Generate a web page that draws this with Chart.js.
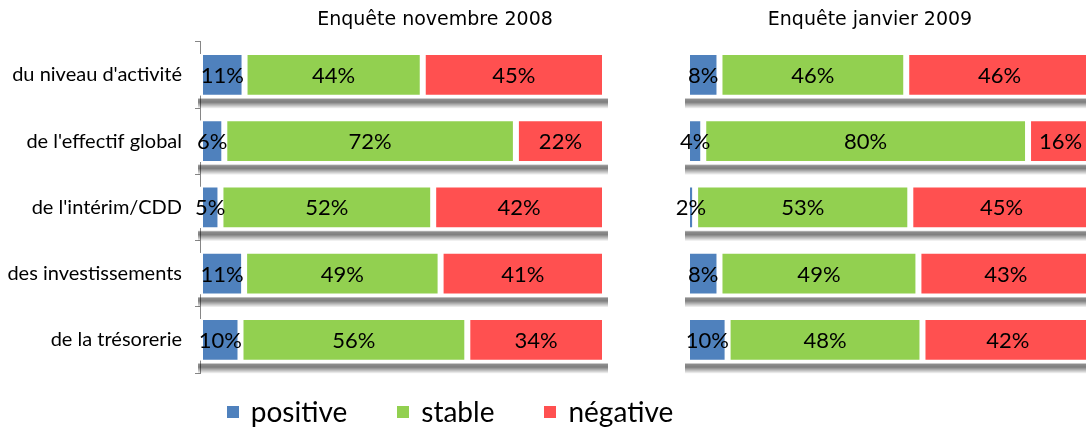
<!DOCTYPE html>
<html>
<head>
<meta charset="utf-8">
<script src="https://cdn.jsdelivr.net/npm/chart.js@4.4.1/dist/chart.umd.min.js"></script>
<style>
  body { margin: 0; background: #fff; }
  #wrap { position: relative; width: 1086px; height: 428px; overflow: hidden; }
  #novChart { position: absolute; left: 0; top: 0; }
  #janChart { position: absolute; left: 640px; top: 0; }
  #legend { position: absolute; left: 0; top: 395px; width: 900px; display: flex; justify-content: center; gap: 50px;
            font-family: Lato, sans-serif; font-size: 28px; line-height: 32px; color: #000; }
  #legend span.item { display: flex; align-items: center; }
  #legend span.box { display: inline-block; width: 12px; height: 12px; margin-right: 12px; margin-top: 2px; }
</style>
</head>
<body>
<div id="wrap">
  <canvas id="novChart" width="870" height="428"></canvas>
  <canvas id="janChart" width="460" height="428"></canvas>
  <div id="legend"></div>
</div>
<script>
const categories = ["du niveau d'activité", "de l'effectif global", "de l'intérim/CDD", "des investissements", "de la trésorerie"];
const seriesNames = ['positive', 'stable', 'négative'];

const nov2008Positive = [11, 6, 5, 11, 10];
const nov2008Stable = [44, 72, 52, 49, 56];
const nov2008Negative = [45, 22, 42, 41, 34];

const jan2009Positive = [8, 4, 2, 8, 10];
const jan2009Stable = [46, 80, 53, 49, 48];
const jan2009Negative = [46, 16, 45, 43, 42];

const colors = ['#4F81BD', '#92D050', '#FF5050'];

// shadow strip under each row + value labels
const barDecor = {
    id: 'barDecor',
    afterDatasetsDraw(chart) {
        const ctx = chart.ctx;
        const n = chart.data.datasets.length;
        const first = chart.getDatasetMeta(0).data;
        const last = chart.getDatasetMeta(n - 1).data;
        ctx.save();
        first.forEach((bar, j) => {
            const left = bar.base - 2;
            const right = last[j].x + 3;
            const bottom = bar.y + bar.height / 2;
            const g = ctx.createLinearGradient(0, bottom + 2, 0, bottom + 13);
            g.addColorStop(0, 'rgba(0,0,0,0)');
            g.addColorStop(0.15, 'rgba(0,0,0,0.45)');
            g.addColorStop(0.4, 'rgba(0,0,0,0.5)');
            g.addColorStop(1, 'rgba(0,0,0,0)');
            ctx.fillStyle = g;
            ctx.fillRect(left, bottom + 2, right - left, 11);
        });
        ctx.restore();

        ctx.save();
        ctx.font = '22px Lato';
        ctx.fillStyle = '#000';
        ctx.textAlign = 'center';
        ctx.textBaseline = 'middle';
        chart.data.datasets.forEach((ds, i) => {
            chart.getDatasetMeta(i).data.forEach((bar, j) => {
                const x = (bar.x + bar.base) / 2;
                ctx.fillText(ds.raw[j] + '%', x, bar.y + 1);
            });
        });
        ctx.restore();
    }
};

function makeChart(id, title, series, leftWidth, rightWidth, showAxis) {
    const totals = categories.map((c, j) => series.reduce((s, arr) => s + arr[j], 0));
    return new Chart(document.getElementById(id), {
        type: 'bar',
        data: {
            labels: categories,
            datasets: series.map((arr, i) => ({
                label: seriesNames[i],
                raw: arr,
                data: arr.map((v, j) => v / totals[j] * 100),
                backgroundColor: colors[i],
                borderColor: '#fff',
                borderWidth: { top: 1, bottom: 1, left: 3, right: 3 },
                borderSkipped: false,
                barPercentage: 0.63,
                categoryPercentage: 1
            }))
        },
        options: {
            indexAxis: 'y',
            responsive: false,
            animation: false,
            layout: { padding: { top: 0, bottom: 55, left: 0, right: 0 } },
            plugins: {
                legend: { display: false },
                tooltip: { enabled: false },
                title: {
                    display: true,
                    text: title,
                    color: '#000',
                    font: { family: 'DejaVu Sans', size: 19, weight: 'normal' },
                    padding: { top: 9, bottom: 10 }
                }
            },
            scales: {
                x: { stacked: true, min: 0, max: 100, display: false },
                y: {
                    stacked: true,
                    position: 'left',
                    afterFit: s => { s.width = leftWidth; },
                    border: { display: showAxis, color: '#868686' },
                    grid: { display: showAxis, drawOnChartArea: false, tickLength: 5, color: '#868686', offset: true },
                    ticks: { display: showAxis, color: '#000', font: { family: 'Lato', size: 20 }, padding: 13 }
                },
                yRight: {
                    position: 'right',
                    afterFit: s => { s.width = rightWidth; },
                    border: { display: false },
                    grid: { display: false },
                    ticks: { display: false }
                }
            }
        },
        plugins: [barDecor]
    });
}

makeChart('novChart', 'Enquête novembre 2008', [nov2008Positive, nov2008Stable, nov2008Negative], 200, 265, true);
makeChart('janChart', 'Enquête janvier 2009', [jan2009Positive, jan2009Stable, jan2009Negative], 47, 7, false);

const legend = document.getElementById('legend');
seriesNames.forEach((name, i) => {
    const item = document.createElement('span');
    item.className = 'item';
    const box = document.createElement('span');
    box.className = 'box';
    box.style.background = colors[i];
    item.appendChild(box);
    item.appendChild(document.createTextNode(name));
    legend.appendChild(item);
});
</script>
</body>
</html>
